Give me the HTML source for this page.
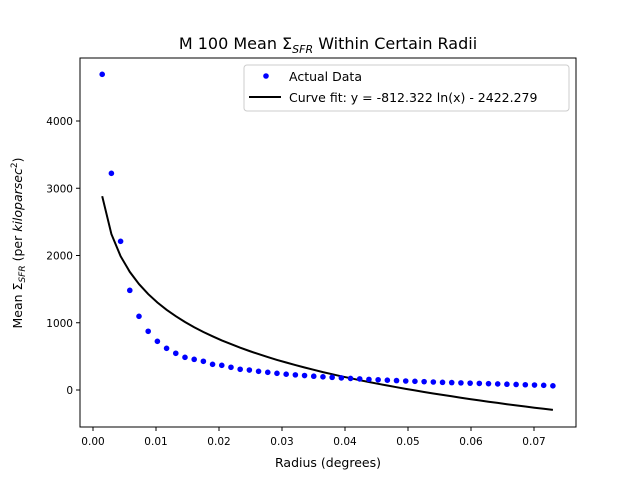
<!DOCTYPE html>
<html><head><meta charset="utf-8"><style>
body{margin:0;background:#fff;font-family:"Liberation Sans","DejaVu Sans",sans-serif}
svg text{font-family:"DejaVu Sans","Liberation Sans",sans-serif;fill:#000}
</style></head><body>
<svg id="chart" width="640" height="480">
<rect x="0" y="0" width="640" height="480" fill="#fff"/>
<text x="328" y="49" font-size="16" text-anchor="middle">M 100 Mean Σ<tspan font-size="11" dy="4" font-style="italic">SFR</tspan><tspan dy="-4"> Within Certain Radii</tspan></text>
<g id="plot"></g>
<rect x="80" y="58" width="496" height="369" fill="none" stroke="#000" stroke-width="1"/>
<text x="328" y="467" font-size="12.5" text-anchor="middle">Radius (degrees)</text>
<text transform="translate(22,243) rotate(-90)" font-size="12.5" text-anchor="middle">Mean Σ<tspan font-size="9" dy="3" font-style="italic">SFR</tspan><tspan dy="-3"> (per </tspan><tspan font-style="italic">kiloparsec</tspan><tspan font-size="9" dy="-5">2</tspan><tspan dy="5">)</tspan></text>
<g>
<rect x="244" y="65" width="325" height="46" rx="3" fill="#fff" stroke="#ccc"/>
<circle cx="266" cy="76" r="2.8" fill="#0000ff"/>
<text x="289" y="81" font-size="12.5">Actual Data</text>
<line x1="249" y1="97" x2="281" y2="97" stroke="#000" stroke-width="2"/>
<text x="289" y="102" font-size="12.5">Curve fit: y = -812.322 ln(x) - 2422.279</text>
</g>
</svg>
<script>
const xStep = 0.00146;
const values = [4694,3222,2211,1482,1096,873,724,620,546,486,456,427,382,367,338,308,297,278,263,248,
235,225,215,205,196,188,180,172,165,158,152,146,140,134,129,124,119,114,110,106,102,98,94,90,86,82,78,74,70,62];
const fitA = -812.322, fitB = -2422.279;
const xTicks = [0,0.01,0.02,0.03,0.04,0.05,0.06,0.07];
const xTickLabels = ["0.00","0.01","0.02","0.03","0.04","0.05","0.06","0.07"];
const yTicks = [0,1000,2000,3000,4000];
const yTickLabels = ["0","1000","2000","3000","4000"];
const NS="http://www.w3.org/2000/svg";
const X=v=>93+v*6300;
const Y=v=>390-v*0.06725;
const g=document.getElementById('plot');
function mk(t,a){const e=document.createElementNS(NS,t);for(const k in a)e.setAttribute(k,a[k]);g.appendChild(e);return e;}
xTicks.forEach((t,i)=>{
 const l=mk('line',{x1:X(t),x2:X(t),y1:427,y2:431,stroke:'#000'});
 
 
 const tx=mk('text',{x:X(t),y:445,'font-size':10.5,'text-anchor':'middle'});tx.textContent=xTickLabels[i];
 
 
});
yTicks.forEach((t,i)=>{
 const l=mk('line',{x1:76,x2:80,y1:Y(t),y2:Y(t),stroke:'#000'});
 
 
 const tx=mk('text',{x:73,y:Y(t)+4,'font-size':10.5,'text-anchor':'end'});tx.textContent=yTickLabels[i];
 
 
});
const xs=values.map((v,i)=>xStep*(i+1));
const pts=xs.map(x=>X(x).toFixed(1)+','+Y(fitA*Math.log(x)+fitB).toFixed(1)).join(' ');
const pl=mk('polyline',{points:pts,fill:'none',stroke:'#000','stroke-width':2});


values.forEach((v,i)=>{
 const c=mk('circle',{cx:X(xs[i]),cy:Y(v),r:2.8,fill:'#0000ff'});
 
 
});
</script>
</body></html>
